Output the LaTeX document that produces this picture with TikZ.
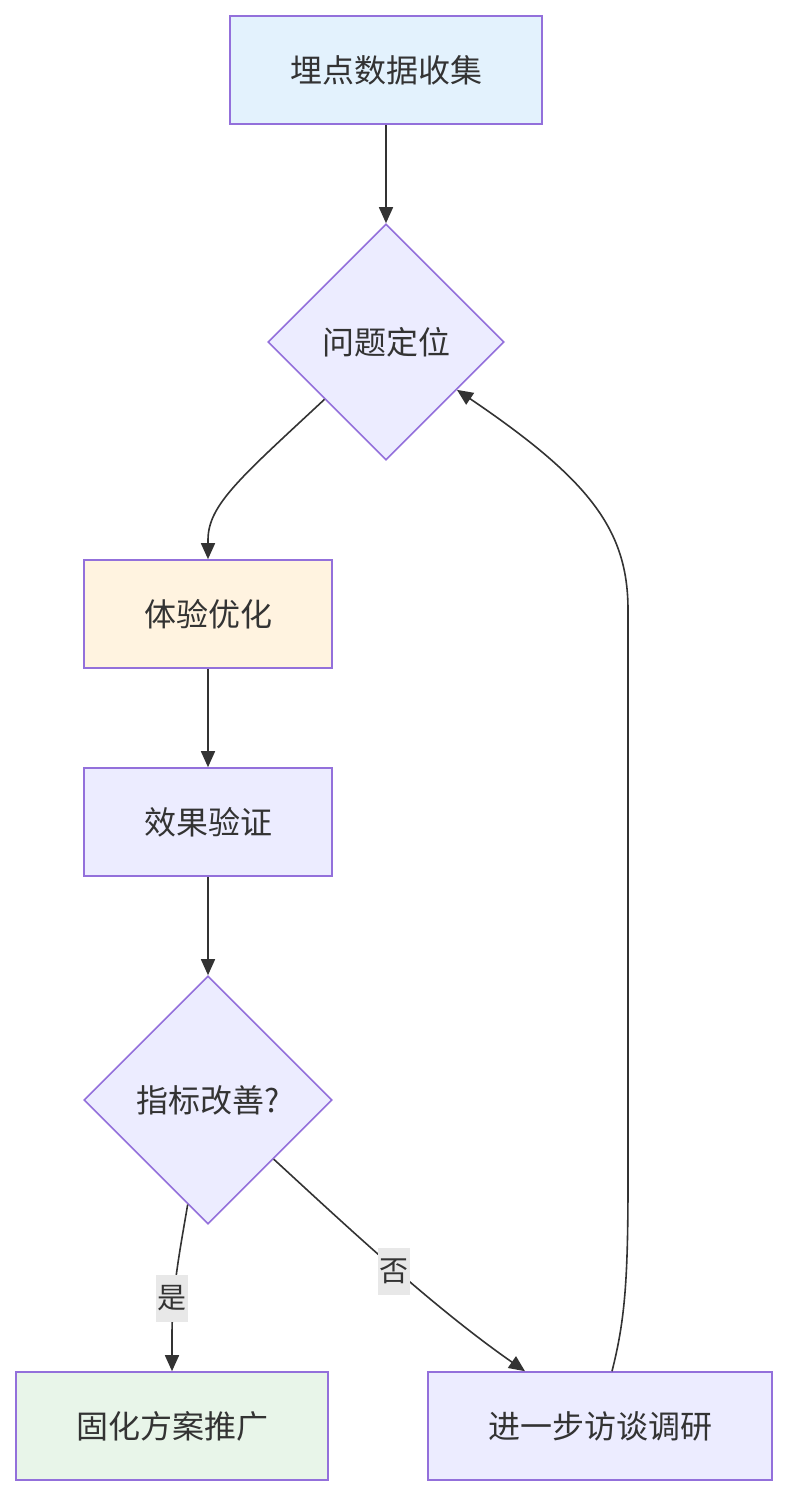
\documentclass[tikz,border=0pt]{standalone}
\usepackage{fontspec}
\setmainfont{Noto Sans CJK SC}
\usetikzlibrary{shapes.geometric,arrows.meta}
\definecolor{nodefill}{HTML}{ECECFF}
\definecolor{nodestroke}{HTML}{9370DB}
\definecolor{bluefill}{HTML}{E3F2FD}
\definecolor{orangefill}{HTML}{FFF3E0}
\definecolor{greenfill}{HTML}{E8F5E9}
\definecolor{edgecol}{HTML}{333333}
\definecolor{labelbg}{HTML}{E8E8E8}
\tikzset{
  base/.style={draw=nodestroke, line width=1.6pt, text=edgecol, font=\fontsize{32}{36}\selectfont, inner sep=0pt},
  box/.style={base, rectangle, fill=nodefill},
  decision/.style={base, diamond, fill=nodefill, aspect=1},
  link/.style={draw=edgecol, line width=1.6pt, -{Triangle[length=16pt,width=14pt]}},
  elabel/.style={fill=labelbg, text=edgecol, font=\fontsize{29}{32}\selectfont, inner sep=0pt, minimum width=32pt, minimum height=47pt}
}
\begin{document}
\begin{tikzpicture}[x=1pt,y=-1pt]
\useasboundingbox (0,0) rectangle (788,1495);
\node[box, fill=bluefill, minimum width=312pt, minimum height=108pt] (A) at (386,70) {埋点数据收集};
\node[decision, minimum width=236pt, minimum height=236pt] (B) at (386,342) {问题定位};
\node[box, fill=orangefill, minimum width=248pt, minimum height=108pt] (C) at (208,614) {体验优化};
\node[box, minimum width=248pt, minimum height=108pt] (D) at (208,822) {效果验证};
\node[decision, minimum width=248pt, minimum height=248pt] (E) at (208,1100) {指标改善?};
\node[box, fill=greenfill, minimum width=312pt, minimum height=108pt] (F) at (172,1426) {固化方案推广};
\node[box, minimum width=344pt, minimum height=108pt] (G) at (600,1426) {进一步访谈调研};

\draw[link] (A.south) -- (B.north);
\draw[link] (B.223.6) .. controls (240,478) and (208,505) .. (208,540) -- (C.north);
\draw[link] (C.south) -- (D.north);
\draw[link] (D.south) -- (E.north);
\draw[link] (E.259.7) .. controls (180,1250) and (172,1290) .. (172,1335) -- (F.north);
\node[elabel] (yes) at (172,1298) {是};
\draw[link] (E.-42.7) .. controls (340,1220) and (430,1305) .. ([xshift=-75pt]G.north);
\node[elabel] (no) at (394,1271) {否};
\draw[link] ([xshift=12pt]G.north) .. controls (625,1320) and (628,1280) .. (628,1180) -- (628,610)
  .. controls (628,530) and (590,480) .. (B.-34.4);
\end{tikzpicture}
\end{document}
